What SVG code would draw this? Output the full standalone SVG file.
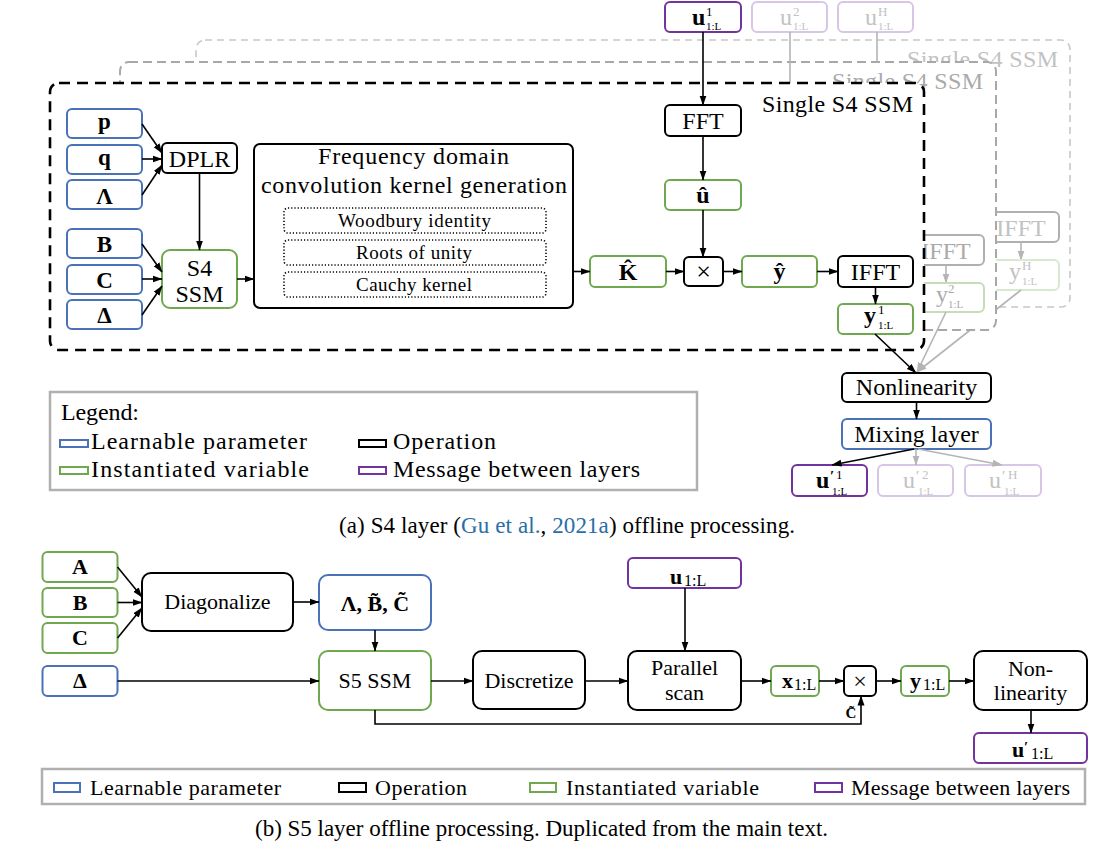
<svg xmlns="http://www.w3.org/2000/svg" width="1102" height="857" viewBox="0 0 1102 857">
<defs>
<marker id="ah" markerWidth="10" markerHeight="8" refX="9.5" refY="4" orient="auto" markerUnits="userSpaceOnUse"><path d="M0,0.5 L10,4 L0,7.5 Z" fill="#000"/></marker>
<marker id="ahg" markerWidth="10" markerHeight="8" refX="9.5" refY="4" orient="auto" markerUnits="userSpaceOnUse"><path d="M0,0.5 L10,4 L0,7.5 Z" fill="#b4b4b4"/></marker>
<style>
text{font-family:'Liberation Serif','Times New Roman','DejaVu Serif',serif}
.t{fill:#000}
.m{text-anchor:middle}
.b{font-weight:bold}
.blue{fill:#fff;stroke:#4a72b8;stroke-width:2}
.green{fill:#fff;stroke:#70a850;stroke-width:2}
.op{fill:#fff;stroke:#000;stroke-width:2}
.msg{fill:#fff;stroke:#7033a0;stroke-width:2}
.msgl{fill:#fff;stroke:#d8c6e6;stroke-width:2}
.gl2{fill:#fff;stroke:#c6ddb8;stroke-width:2}
.gl3{fill:#fff;stroke:#d8e9cf;stroke-width:2}
.opg{fill:#fff;stroke:#b0b0b0;stroke-width:2}
.dot{fill:#fff;stroke:#000;stroke-width:1.6;stroke-dasharray:1.2 2}
.c{fill:none;stroke:#000;stroke-width:1.6;marker-end:url(#ah)}
.cg{fill:none;stroke:#b4b4b4;stroke-width:1.6;marker-end:url(#ahg)}
.ln{fill:none;stroke:#b4b4b4;stroke-width:1.6}
.gt{fill:#aaa}
.gt3{fill:#c2c2c2}
.leg{fill:#fff;stroke:#b0b0b0;stroke-width:2.5}
</style>
</defs>
<rect width="1102" height="857" fill="#fff"/>
<g font-family="Liberation Serif, Times New Roman, DejaVu Serif, serif">

<!-- top messages -->
<g id="u1-in"><rect class="msg" x="665" y="2" width="76" height="30" rx="5"/>
<text class="t" font-size="24"><tspan class="b" x="692" y="25">u</tspan><tspan x="706" y="16" font-size="13">1</tspan><tspan x="706" y="30" font-size="11">1:L</tspan></text></g>
<g id="u2-in"><rect class="msgl" x="752" y="2" width="75" height="30" rx="5"/>
<text class="t gt3" font-size="24"><tspan x="780" y="25">u</tspan><tspan x="793" y="16" font-size="13">2</tspan><tspan x="793" y="30" font-size="11">1:L</tspan></text></g>
<g id="uH-in"><rect class="msgl" x="838" y="2" width="75" height="30" rx="5"/>
<text class="t gt3" font-size="24"><tspan x="865" y="25">u</tspan><tspan x="878" y="16" font-size="13">H</tspan><tspan x="878" y="30" font-size="11">1:L</tspan></text></g>

<!-- layer 3 -->
<g id="layer3">
<rect x="196" y="40" width="874" height="267" rx="9" fill="#fff" stroke="#c8c8c8" stroke-width="1.6" stroke-dasharray="7 5"/>
<text class="t gt3" x="907" y="67" font-size="24" textLength="151">Single S4 SSM</text>
<path class="ln" d="M877,32 V120"/>
<g id="ifft3"><rect class="opg" x="983" y="212" width="76" height="30" rx="5"/><text class="t m gt3" x="1021" y="236" font-size="24">IFFT</text></g>
<path class="cg" d="M1021,242 V260"/>
<g id="y3"><rect class="gl3" x="983" y="260" width="76" height="30" rx="5"/>
<text class="t gt3" font-size="24"><tspan x="1009" y="279">y</tspan><tspan x="1022" y="270" font-size="13">H</tspan><tspan x="1022" y="285" font-size="11">1:L</tspan></text></g>
<path class="cg" d="M1021,290 L917,372"/>
</g>

<!-- layer 2 -->
<g id="layer2">
<rect x="120" y="62" width="876" height="268" rx="9" fill="#fff" stroke="#a8a8a8" stroke-width="2" stroke-dasharray="9 5"/>
<text class="t gt" x="832" y="89" font-size="24" textLength="151">Single S4 SSM</text>
<path class="ln" d="M790,32 V130"/>
<g id="ifft2"><rect class="opg" x="908" y="235" width="76" height="30" rx="5"/><text class="t m gt" x="946" y="259" font-size="24">IFFT</text></g>
<path class="cg" d="M946,265 V283"/>
<g id="y2"><rect class="gl2" x="908" y="283" width="76" height="29" rx="5"/>
<text class="t gt" font-size="24"><tspan x="936" y="302">y</tspan><tspan x="948" y="293" font-size="13">2</tspan><tspan x="948" y="308" font-size="11">1:L</tspan></text></g>
<path class="cg" d="M946,312 L917,372"/>
</g>

<!-- main layer -->
<g id="layer1">
<rect x="50" y="83" width="874" height="267" rx="9" fill="#fff" stroke="#000" stroke-width="2.6" stroke-dasharray="11 7"/>
<text class="t" x="762" y="112" font-size="24" textLength="151">Single S4 SSM</text>
</g>

<g id="p"><rect class="blue" x="67" y="109" width="75" height="29" rx="5"/><text class="t m b" x="104.5" y="129" font-size="23">p</text></g>
<g id="q"><rect class="blue" x="67" y="145" width="75" height="29" rx="5"/><text class="t m b" x="104.5" y="165" font-size="23">q</text></g>
<g id="Lambda"><rect class="blue" x="67" y="180" width="75" height="29" rx="5"/><text class="t m b" x="104.5" y="204" font-size="23">Λ</text></g>
<g id="B"><rect class="blue" x="67" y="229" width="75" height="29" rx="5"/><text class="t m b" x="104.5" y="252" font-size="23">B</text></g>
<g id="C"><rect class="blue" x="67" y="265" width="75" height="29" rx="5"/><text class="t m b" x="104.5" y="288" font-size="23">C</text></g>
<g id="Delta"><rect class="blue" x="67" y="300" width="75" height="29" rx="5"/><text class="t m b" x="104.5" y="323" font-size="23">Δ</text></g>
<g id="DPLR"><rect class="op" x="162" y="143" width="75" height="30" rx="5"/><text class="t m" x="199.5" y="167" font-size="24">DPLR</text></g>
<g id="S4SSM"><rect class="green" x="162" y="250" width="75" height="58" rx="8"/><text class="t m" x="199.5" y="276" font-size="24">S4</text><text class="t m" x="199.5" y="302" font-size="24">SSM</text></g>
<g id="freq">
<rect class="op" x="254" y="144" width="319" height="164" rx="6"/>
<text class="t m" x="413.5" y="164" font-size="24" textLength="191">Frequency domain</text>
<text class="t m" x="414" y="193" font-size="24" textLength="306">convolution kernel generation</text>
<rect class="dot" x="284" y="208" width="262" height="25" rx="4"/>
<text class="t m" x="414.5" y="227" font-size="19" textLength="153">Woodbury identity</text>
<rect class="dot" x="284" y="240" width="262" height="25" rx="4"/>
<text class="t m" x="414" y="259" font-size="19" textLength="116">Roots of unity</text>
<rect class="dot" x="284" y="272" width="262" height="25" rx="4"/>
<text class="t m" x="414" y="291" font-size="19" textLength="116">Cauchy kernel</text>
</g>
<g id="FFT"><rect class="op" x="665" y="105" width="76" height="31" rx="5"/><text class="t m" x="703" y="129" font-size="24">FFT</text></g>
<g id="uhat"><rect class="green" x="665" y="180" width="76" height="30" rx="5"/><text class="t m b" x="703" y="203" font-size="24">û</text></g>
<g id="Khat"><rect class="green" x="590" y="256" width="76" height="31" rx="5"/><text class="t m b" x="628" y="280" font-size="24">K̂</text></g>
<g id="mult"><rect class="op" x="684" y="257" width="39" height="29" rx="5"/><text class="t m" x="703.5" y="280" font-size="26">×</text></g>
<g id="yhat"><rect class="green" x="742" y="256" width="75" height="31" rx="5"/><text class="t m b" x="779.5" y="279" font-size="24">ŷ</text></g>
<g id="IFFT"><rect class="op" x="838" y="256" width="75" height="31" rx="5"/><text class="t m" x="875.5" y="280" font-size="24">IFFT</text></g>
<g id="y1"><rect class="green" x="838" y="304" width="75" height="30" rx="5"/>
<text class="t" font-size="24"><tspan class="b" x="864" y="323">y</tspan><tspan x="878" y="314" font-size="13">1</tspan><tspan x="878" y="329" font-size="11">1:L</tspan></text></g>

<g id="Nonlinearity"><rect class="op" x="842" y="373" width="149" height="29" rx="5"/><text class="t m" x="916.5" y="395" font-size="24">Nonlinearity</text></g>
<g id="Mixing"><rect class="blue" x="842" y="419" width="149" height="30" rx="5"/><text class="t m" x="916.5" y="442" font-size="24">Mixing layer</text></g>
<g id="u1-out"><rect class="msg" x="792" y="465" width="75" height="31" rx="5"/>
<text class="t" font-size="24"><tspan class="b" x="816" y="488">u</tspan><tspan class="b" x="830" y="481" font-size="15">′</tspan><tspan x="836" y="479" font-size="13">1</tspan><tspan x="832" y="495" font-size="11">1:L</tspan></text></g>
<g id="u2-out"><rect class="msgl" x="878" y="465" width="75" height="31" rx="5"/>
<text class="t gt3" font-size="24"><tspan x="903" y="488">u</tspan><tspan x="916" y="481" font-size="15">′</tspan><tspan x="922" y="479" font-size="13">2</tspan><tspan x="918" y="495" font-size="11">1:L</tspan></text></g>
<g id="uH-out"><rect class="msgl" x="965" y="465" width="76" height="31" rx="5"/>
<text class="t gt3" font-size="24"><tspan x="989" y="488">u</tspan><tspan x="1002" y="481" font-size="15">′</tspan><tspan x="1008" y="479" font-size="13">H</tspan><tspan x="1004" y="495" font-size="11">1:L</tspan></text></g>

<g id="connectors-a">
<path class="c" d="M142,124 L162,153"/>
<path class="c" d="M142,159 L162,159"/>
<path class="c" d="M142,195 L162,165"/>
<path class="c" d="M142,244 L162,272"/>
<path class="c" d="M142,279 L162,279"/>
<path class="c" d="M142,315 L162,286"/>
<path class="c" d="M199.5,173 V250"/>
<path class="c" d="M237,279 H254"/>
<path class="c" d="M573,271.5 H590"/>
<path class="c" d="M703,32 V105"/>
<path class="c" d="M703,136 V180"/>
<path class="c" d="M703,210 V257"/>
<path class="c" d="M666,271.5 H684"/>
<path class="c" d="M723,271.5 H742"/>
<path class="c" d="M817,271.5 H838"/>
<path class="c" d="M875.5,287 V304"/>
<path class="c" d="M875,334 L916,373"/>
<path class="c" d="M916.5,402 V419"/>
<path class="c" d="M914,449 L832,465"/>
<path class="cg" d="M916,449 V465"/>
<path class="cg" d="M918,449 L1002,465"/>
</g>

<g id="legend-a">
<rect class="leg" x="50" y="392" width="647" height="98"/>
<text class="t" x="61" y="420" font-size="24" textLength="78">Legend:</text>
<rect class="blue" x="60" y="440" width="28" height="7"/>
<text class="t" x="91" y="449" font-size="24" textLength="216">Learnable parameter</text>
<rect class="green" x="60" y="467" width="28" height="7"/>
<text class="t" x="91" y="477" font-size="24" textLength="218">Instantiated variable</text>
<rect class="op" x="359" y="440" width="27" height="7"/>
<text class="t" x="393" y="449" font-size="24" textLength="103">Operation</text>
<rect class="msg" x="359" y="467" width="27" height="7"/>
<text class="t" x="393" y="477" font-size="24" textLength="247">Message between layers</text>
</g>
<text class="t" x="339" y="533" font-size="23" textLength="456">(a) S4 layer (<tspan fill="#2a6ea6">Gu et al.</tspan>, <tspan fill="#2a6ea6">2021a</tspan>) offline processing.</text>

<!-- S5 part -->
<g id="s5-A"><rect class="green" x="42.5" y="552" width="75" height="30" rx="5"/><text class="t m b" x="80" y="574" font-size="22">A</text></g>
<g id="s5-B"><rect class="green" x="42.5" y="588" width="75" height="29" rx="5"/><text class="t m b" x="80" y="610" font-size="22">B</text></g>
<g id="s5-C"><rect class="green" x="42.5" y="623" width="75" height="30" rx="5"/><text class="t m b" x="80" y="645" font-size="22">C</text></g>
<g id="s5-Delta"><rect class="blue" x="42.5" y="666" width="75" height="30" rx="5"/><text class="t m b" x="80" y="688" font-size="22">Δ</text></g>
<g id="Diagonalize"><rect class="op" x="142" y="573" width="151" height="58" rx="9"/><text class="t m" x="217.5" y="609" font-size="22">Diagonalize</text></g>
<g id="LBC"><rect class="blue" x="319" y="575" width="112" height="55" rx="9"/><text class="t m b" x="375" y="611" font-size="22">Λ, B̃, C̃</text></g>
<g id="S5SSM"><rect class="green" x="319" y="651" width="112" height="59" rx="9"/><text class="t m" x="375" y="688" font-size="22">S5 SSM</text></g>
<g id="Discretize"><rect class="op" x="473" y="651" width="112" height="58" rx="9"/><text class="t m" x="529" y="688" font-size="22">Discretize</text></g>
<g id="u-in"><rect class="msg" x="628" y="558" width="113" height="30" rx="5"/>
<text class="t" font-size="22"><tspan class="b" x="670" y="584">u</tspan><tspan x="684" y="586" font-size="16">1:L</tspan></text></g>
<g id="Parallel"><rect class="op" x="628" y="651" width="113" height="59" rx="9"/><text class="t m" x="684.5" y="675" font-size="22">Parallel</text><text class="t m" x="684.5" y="700" font-size="22">scan</text></g>
<g id="x1L"><rect class="green" x="771" y="666" width="48" height="30" rx="5"/>
<text class="t" font-size="22"><tspan class="b" x="782" y="688">x</tspan><tspan x="794" y="690" font-size="16">1:L</tspan></text></g>
<g id="mult-b"><rect class="op" x="844" y="666" width="32" height="30" rx="5"/><text class="t m" x="860" y="689" font-size="24">×</text></g>
<g id="y1L"><rect class="green" x="901" y="666" width="48" height="30" rx="5"/>
<text class="t" font-size="22"><tspan class="b" x="910" y="688">y</tspan><tspan x="923" y="690" font-size="16">1:L</tspan></text></g>
<g id="NonLin-b"><rect class="op" x="974" y="651" width="113" height="59" rx="9"/><text class="t m" x="1030.5" y="676" font-size="22">Non-</text><text class="t m" x="1030.5" y="700" font-size="22">linearity</text></g>
<g id="u-out"><rect class="msg" x="974" y="733" width="113" height="30" rx="5"/>
<text class="t" font-size="22"><tspan class="b" x="1012" y="757">u</tspan><tspan class="b" x="1024" y="752" font-size="15">′</tspan><tspan x="1031" y="759" font-size="16">1:L</tspan></text></g>

<g id="connectors-b">
<path class="c" d="M117.5,567 L142,597"/>
<path class="c" d="M117.5,602.5 H142"/>
<path class="c" d="M117.5,638 L142,608"/>
<path class="c" d="M293,602 H319"/>
<path class="c" d="M375,630 V651"/>
<path class="c" d="M117.5,681 H319"/>
<path class="c" d="M431,681 H473"/>
<path class="c" d="M585,681 H628"/>
<path class="c" d="M685,588 V651"/>
<path class="c" d="M741,681 H771"/>
<path class="c" d="M819,681 H844"/>
<path class="c" d="M876,681 H901"/>
<path class="c" d="M949,681 H974"/>
<path class="c" d="M1031,710 V733"/>
<path class="c" d="M375,710 V724 H861 V696"/>
<text class="t m b" x="851" y="718" font-size="15">C̃</text>
</g>

<g id="legend-b">
<rect class="leg" x="42" y="769" width="1043" height="35"/>
<rect class="blue" x="54" y="783" width="26" height="9"/>
<text class="t" x="90" y="795" font-size="22" textLength="191">Learnable parameter</text>
<rect class="op" x="339" y="783" width="27" height="9"/>
<text class="t" x="375" y="795" font-size="22" textLength="92">Operation</text>
<rect class="green" x="530" y="783" width="26" height="9"/>
<text class="t" x="566" y="795" font-size="22" textLength="193">Instantiated variable</text>
<rect class="msg" x="815" y="783" width="27" height="9"/>
<text class="t" x="851" y="795" font-size="22" textLength="219">Message between layers</text>
</g>
<text class="t" x="255" y="836" font-size="23" textLength="573">(b) S5 layer offline processing. Duplicated from the main text.</text>
</g>
</svg>
